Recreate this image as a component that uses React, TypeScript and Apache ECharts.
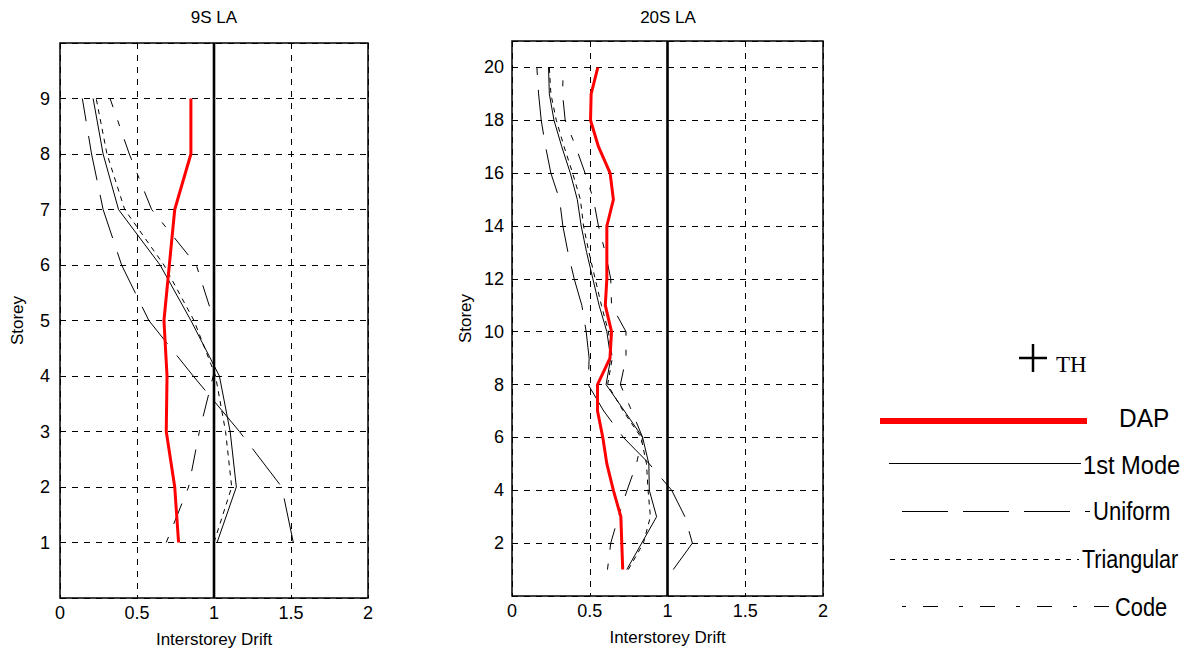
import React, { useEffect, useRef } from "react";
import * as echarts from "echarts";

// ---------- data ----------
const storeys9 = [1, 2, 3, 4, 5, 6, 7, 8, 9];
const dap9 = [0.77, 0.745, 0.69, 0.695, 0.675, 0.71, 0.745, 0.85, 0.85];
const mode9 = [1.02, 1.145, 1.105, 1.035, 0.85, 0.65, 0.38, 0.28, 0.215];
const uniform9 = [1.515, 1.44, 1.165, 0.865, 0.577, 0.4, 0.28, 0.205, 0.145];
const tri9 = [1.0, 1.115, 1.075, 1.01, 0.87, 0.675, 0.42, 0.305, 0.235];
const code9 = [0.69, 0.835, 0.905, 0.995, 1.0, 0.885, 0.595, 0.45, 0.325];

const storeys20 = [1, 2, 3, 4, 5, 6, 7, 8, 9, 10, 11, 12, 13, 14, 15, 16, 17, 18, 19, 20];
const dap20 = [0.712, 0.706, 0.7, 0.652, 0.61, 0.584, 0.55, 0.55, 0.63, 0.64, 0.6, 0.61, 0.61, 0.61, 0.652, 0.631, 0.556, 0.505, 0.509, 0.552];
const mode20 = [0.738, 0.834, 0.93, 0.883, 0.88, 0.84, 0.723, 0.605, 0.635, 0.61, 0.56, 0.52, 0.48, 0.445, 0.42, 0.375, 0.32, 0.27, 0.24, 0.235];
const tri20 = [0.748, 0.845, 0.89, 0.875, 0.865, 0.83, 0.715, 0.615, 0.645, 0.62, 0.575, 0.535, 0.495, 0.46, 0.44, 0.39, 0.335, 0.285, 0.25, 0.24];
const uniform20 = [1.037, 1.16, 1.112, 1.027, 0.883, 0.716, 0.59, 0.49, 0.496, 0.477, 0.449, 0.4, 0.36, 0.327, 0.306, 0.25, 0.216, 0.188, 0.171, 0.16];
const code20 = [0.614, 0.635, 0.684, 0.74, 0.8, 0.84, 0.77, 0.697, 0.733, 0.733, 0.64, 0.635, 0.6, 0.556, 0.524, 0.47, 0.41, 0.342, 0.325, 0.33];

const thX = 1;
const xTicks = [0, 0.5, 1, 1.5, 2];
const legendNames = ["TH", "DAP", "1st Mode", "Uniform", "Triangular", "Code"];
const titles = ["9S LA", "20S LA"];

const FONT = "'Liberation Sans', Arial, sans-serif";

function pairs(xs: number[], ys: number[]) {
  return xs.map((x, i) => [x, ys[i]]);
}

function buildSeries(idx: number, storeys: number[], mode: number[], uni: number[], tri: number[], code: number[], dap: number[], yMax: number) {
  const base = { type: "line", xAxisIndex: idx, yAxisIndex: idx, symbol: "none", showSymbol: false, silent: true };
  return [
    { ...base, name: legendNames[2], data: pairs(mode, storeys), lineStyle: { color: "#000", width: 1, type: "solid" } },
    { ...base, name: legendNames[3], data: pairs(uni, storeys), lineStyle: { color: "#000", width: 1, type: [45, 15] } },
    { ...base, name: legendNames[4], data: pairs(tri, storeys), lineStyle: { color: "#000", width: 1, type: [5, 5] } },
    { ...base, name: legendNames[5], data: pairs(code, storeys), lineStyle: { color: "#000", width: 1, type: [6, 14, 22, 14] } },
    { ...base, name: legendNames[0], data: [[thX, 0], [thX, yMax]], lineStyle: { color: "#000", width: 2.6, type: "solid" } },
    { ...base, name: legendNames[1], data: pairs(dap, storeys), lineStyle: { color: "#ff0000", width: 3, type: "solid" }, z: 5 },
  ];
}

const splitDash = { show: true, lineStyle: { color: "#000", width: 1, type: [6, 6] } };

function legendText(text: string, x: number, y: number, sx: number) {
  return {
    type: "text", x, y, scaleX: sx, originX: 0, originY: 0,
    style: { text, font: `26px ${FONT}`, fill: "#000", align: "left", verticalAlign: "middle" },
  };
}

export default function App() {
  const ref = useRef<HTMLDivElement>(null);
  useEffect(() => {
    if (!ref.current) return;
    const chart = echarts.init(ref.current, undefined, { renderer: "svg" });
    const xAxisCommon = (gi: number) => ({
      type: "value",
      gridIndex: gi,
      min: xTicks[0],
      max: xTicks[xTicks.length - 1],
      interval: 0.5,
      name: "Interstorey Drift",
      nameLocation: "middle",
      nameGap: 33,
      nameTextStyle: { fontFamily: FONT, fontSize: 17, color: "#000" },
      axisLine: { show: false },
      axisTick: { show: false },
      axisLabel: { fontFamily: FONT, fontSize: 18, color: "#000", margin: 6, formatter: (v: number) => String(v) },
      splitLine: splitDash,
    });
    const option: any = {
      animation: false,
      backgroundColor: "#fff",
      grid: [
        { left: 60, top: 43, width: 308, height: 555, show: true, borderColor: "#000", borderWidth: 1.5, backgroundColor: "transparent" },
        { left: 512, top: 41, width: 311, height: 555, show: true, borderColor: "#000", borderWidth: 1.5, backgroundColor: "transparent" },
      ],
      xAxis: [xAxisCommon(0), xAxisCommon(1)],
      yAxis: [
        {
          type: "value", gridIndex: 0, min: 0, max: 10, interval: 1,
          name: "Storey", nameLocation: "middle", nameGap: 34,
          nameTextStyle: { fontFamily: FONT, fontSize: 17, color: "#000" },
          axisLine: { show: false }, axisTick: { show: false },
          axisLabel: { fontFamily: FONT, fontSize: 18, color: "#000", margin: 10, formatter: (v: number) => (v === 0 || v === 10 ? "" : String(v)) },
          splitLine: splitDash,
        },
        {
          type: "value", gridIndex: 1, min: 0, max: 21, interval: 2,
          name: "Storey", nameLocation: "middle", nameGap: 38,
          nameTextStyle: { fontFamily: FONT, fontSize: 17, color: "#000" },
          axisLine: { show: false }, axisTick: { show: false },
          axisLabel: { fontFamily: FONT, fontSize: 18, color: "#000", margin: 8, formatter: (v: number) => (v === 0 || v > 20 ? "" : String(v)) },
          splitLine: splitDash,
        },
      ],
      series: [
        ...buildSeries(0, storeys9, mode9, uniform9, tri9, code9, dap9, 10),
        ...buildSeries(1, storeys20, mode20, uniform20, tri20, code20, dap20, 21),
      ],
      graphic: [
        { type: "text", x: 214, y: 17, style: { text: titles[0], font: `17px ${FONT}`, fill: "#000", align: "center", verticalAlign: "middle" } },
        { type: "text", x: 668, y: 17, style: { text: titles[1], font: `17px ${FONT}`, fill: "#000", align: "center", verticalAlign: "middle" } },
        // legend: TH
        { type: "line", shape: { x1: 1019, y1: 358, x2: 1047, y2: 358 }, style: { stroke: "#000", lineWidth: 2.5 } },
        { type: "line", shape: { x1: 1033, y1: 344, x2: 1033, y2: 372 }, style: { stroke: "#000", lineWidth: 2.5 } },
        { type: "text", x: 1056, y: 364, style: { text: legendNames[0], font: `23px 'Liberation Serif', 'Times New Roman', serif`, fill: "#000", align: "left", verticalAlign: "middle" } },
        // DAP
        { type: "line", shape: { x1: 880, y1: 421, x2: 1087, y2: 421 }, style: { stroke: "#ff0000", lineWidth: 6 } },
        legendText(legendNames[1], 1119, 418, 0.94),
        // 1st Mode
        { type: "line", shape: { x1: 889, y1: 463.5, x2: 1081, y2: 463.5 }, style: { stroke: "#000", lineWidth: 1 } },
        legendText(legendNames[2], 1083, 465, 0.91),
        // Uniform
        { type: "line", shape: { x1: 902, y1: 511.5, x2: 1090, y2: 511.5 }, style: { stroke: "#000", lineWidth: 1, lineDash: [46, 15] } },
        legendText(legendNames[3], 1093, 511, 0.85),
        // Triangular
        { type: "line", shape: { x1: 890, y1: 559.5, x2: 1079, y2: 559.5 }, style: { stroke: "#000", lineWidth: 1, lineDash: [5, 6] } },
        legendText(legendNames[4], 1082, 559, 0.83),
        // Code
        { type: "line", shape: { x1: 902, y1: 606.5, x2: 1111, y2: 606.5 }, style: { stroke: "#000", lineWidth: 1, lineDash: [4, 17, 15, 21] } },
        legendText(legendNames[5], 1115, 607, 0.84),
      ],
    };
    chart.setOption(option);
    return () => chart.dispose();
  }, []);
  return <div ref={ref} style={{ position: "absolute", left: 0, top: 0, width: 1188, height: 655, background: "#fff" }} />;
}
